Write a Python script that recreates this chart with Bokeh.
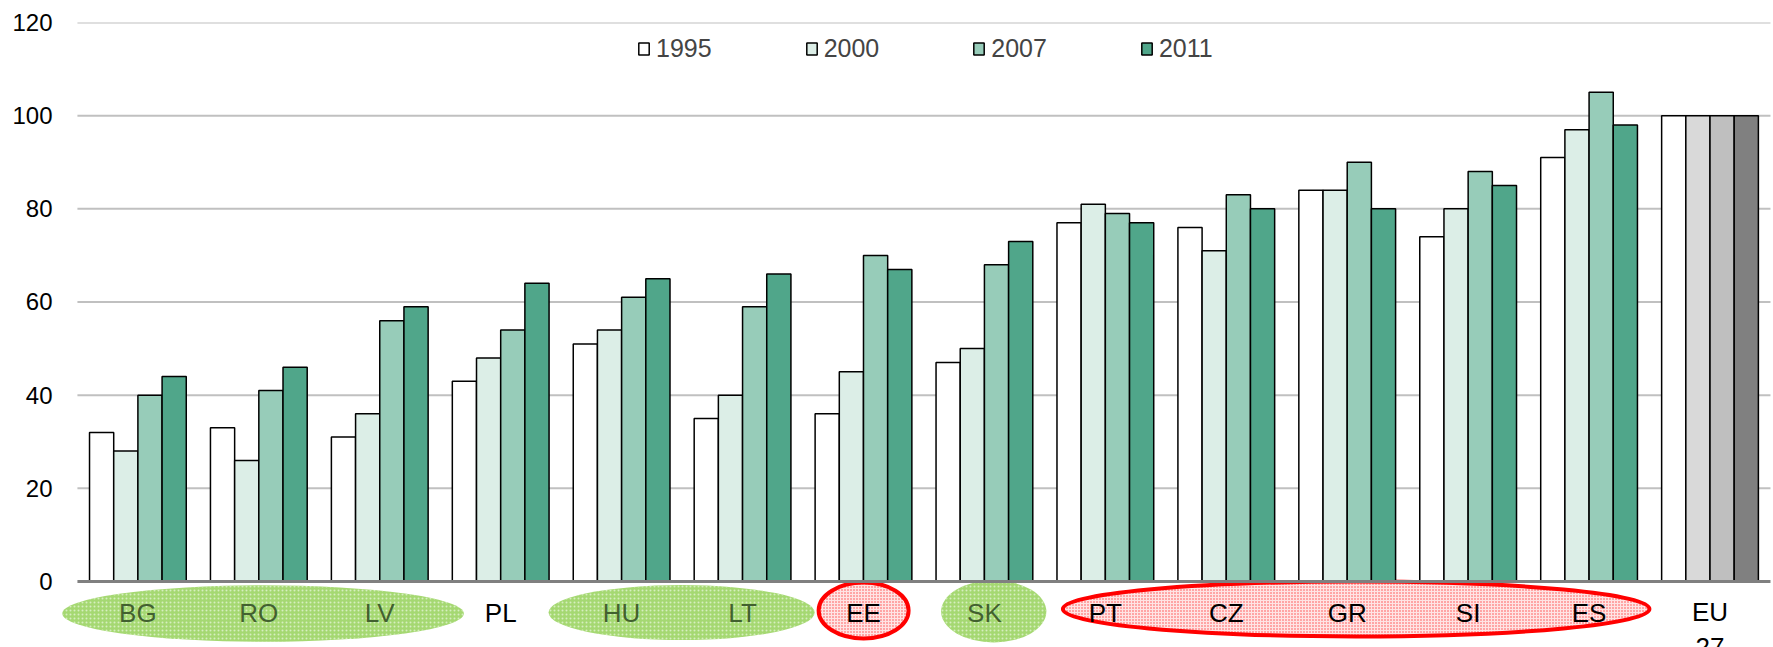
from bokeh.plotting import figure
from bokeh.models import Range1d, Legend, LegendItem, FixedTicker, ColumnDataSource
from bokeh.core.properties import value
from bokeh.embed import file_html
from bokeh.resources import INLINE

# ---------------- data ----------------
countries = ["BG", "RO", "LV", "PL", "HU", "LT", "EE", "SK", "PT", "CZ", "GR", "SI", "ES"]
eu_category = "EU 27"
years = ["1995", "2000", "2007", "2011"]
v1995 = [32, 33, 31, 43, 51, 35, 36, 47, 77, 76, 84, 74, 91]
v2000 = [28, 26, 36, 48, 54, 40, 45, 50, 81, 71, 84, 80, 97]
v2007 = [40, 41, 56, 54, 61, 59, 70, 68, 79, 83, 90, 88, 105]
v2011 = [44, 46, 59, 64, 65, 66, 67, 73, 77, 80, 80, 85, 98]
eu_values = [100, 100, 100, 100]
y_ticks = [0, 20, 40, 60, 80, 100, 120]

green_labels = ["BG", "RO", "LV", "HU", "LT", "SK"]
black_labels = ["PL", "EE", "PT", "CZ", "GR", "SI", "ES"]

# ---------------- styles ----------------
FONT = "Liberation Sans"
series_colors = ["#FFFFFF", "#DCEEE7", "#97CCB9", "#50A68A"]
eu_colors = ["#FFFFFF", "#D9D9D9", "#BFBFBF", "#808080"]
offsets = [-0.3, -0.1, 0.1, 0.3]

# ellipse annotations (category-axis x centre, x width, y centre, y height)
green_ellipses = dict(x=[1.535, 4.996, 7.577], w=[3.32, 2.20, 0.87],
                      y=[-6.87, -6.66, -6.44], h=[12.1, 11.8, 13.3])
red_ellipses = dict(x=[6.501, 10.574], w=[0.744, 4.85],
                    y=[-6.23, -5.9], h=[12.0, 11.8])

cats = countries + [eu_category]
pos = {c: i + 0.5 for i, c in enumerate(cats)}   # category centres on the x scale
n_cats = len(cats)

p = figure(x_range=Range1d(-0.14, n_cats + 0.025), y_range=Range1d(-14.17, 120),
           width=1773, height=647, output_backend="svg", toolbar_location=None,
           x_axis_location=None, min_border_top=22, min_border_bottom=0,
           min_border_left=60, min_border_right=0)
p.outline_line_color = None
p.background_fill_color = "white"

# y axis
p.yaxis.ticker = FixedTicker(ticks=y_ticks)
p.yaxis.axis_line_color = None
p.yaxis.major_tick_line_color = None
p.yaxis.major_tick_out = 0
p.yaxis.major_tick_in = 0
p.yaxis.minor_tick_line_color = None
p.yaxis.major_label_text_font = FONT
p.yaxis.major_label_text_font_size = "24px"
p.yaxis.major_label_text_color = "black"
p.yaxis.major_label_standoff = 8
p.grid.visible = False

# horizontal gridlines spanning the category area
grid_ticks = y_ticks[1:]
p.segment(x0=[0] * len(grid_ticks), x1=[n_cats] * len(grid_ticks), y0=grid_ticks, y1=grid_ticks,
          line_color="#C0C0C0", line_width=2)

# ellipses
p.ellipse(x=green_ellipses["x"], y=green_ellipses["y"], width=green_ellipses["w"],
          height=green_ellipses["h"], fill_color="#A5D872", line_color=None,
          hatch_pattern="dot", hatch_color="#D6EEC0", hatch_scale=4, hatch_weight=1.5)
p.ellipse(x=red_ellipses["x"], y=red_ellipses["y"], width=red_ellipses["w"],
          height=red_ellipses["h"], fill_color="#FFE4E4", line_color="#FF0000", line_width=4,
          hatch_pattern="dot", hatch_color="#FF2A2A", hatch_scale=3, hatch_weight=1.6,
          hatch_alpha=0.85)

# bars
items = []
series = [v1995, v2000, v2007, v2011]
for i, yr in enumerate(years):
    src = ColumnDataSource(dict(x=[pos[c] + offsets[i] for c in countries], top=series[i]))
    r = p.vbar(x="x", top="top", width=0.2, source=src,
               fill_color=series_colors[i], line_color="black", line_width=1.5)
    items.append(LegendItem(label=yr, renderers=[r]))
    esrc = ColumnDataSource(dict(x=[pos[eu_category] + offsets[i]], top=[eu_values[i]]))
    p.vbar(x="x", top="top", width=0.2, source=esrc,
           fill_color=eu_colors[i], line_color="black", line_width=1.5)

# zero axis line
p.segment(x0=[0], x1=[n_cats], y0=[0], y1=[0], line_color="#808080", line_width=3)

# category labels
p.text(x=[pos[c] for c in green_labels], y=[-6.87] * len(green_labels), text=green_labels,
       text_font=value(FONT), text_font_size="26px", text_color="#2F4A22", text_alpha=0.85,
       text_align="center", text_baseline="middle")
p.text(x=[pos[c] for c in black_labels], y=[-6.87] * len(black_labels), text=black_labels,
       text_font=value(FONT), text_font_size="26px", text_color="black",
       text_align="center", text_baseline="middle")
p.text(x=[pos[eu_category]], y=[-3.4], text=["EU\n27"],
       text_font=value(FONT), text_font_size="26px", text_color="black",
       text_align="center", text_baseline="top", text_line_height=1.15)

legend = Legend(items=items, orientation="horizontal", location=(577, 584),
                glyph_width=13, glyph_height=15, label_standoff=6, spacing=93,
                padding=0, margin=0, border_line_color=None, background_fill_alpha=0,
                label_text_font=FONT, label_text_font_size="25px")
p.add_layout(legend)

open("out.html", "w").write(file_html(p, INLINE))
